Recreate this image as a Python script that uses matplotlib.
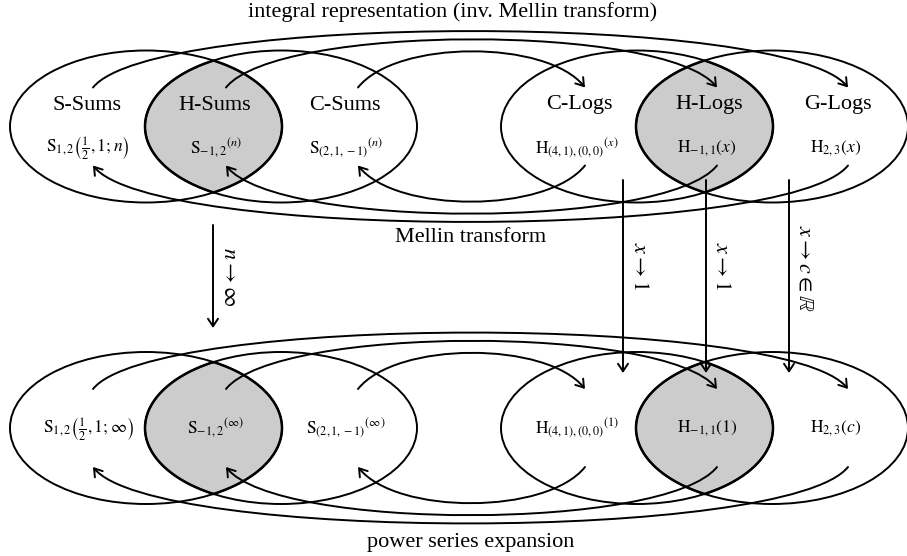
import numpy as np
import matplotlib
matplotlib.use("Agg")
import matplotlib.pyplot as plt
from matplotlib.patches import Ellipse, Polygon, FancyArrowPatch
from matplotlib.path import Path

plt.rcParams["font.family"] = ["Liberation Serif", "DejaVu Serif"]
plt.rcParams["mathtext.fontset"] = "stix"

# ---- diagram content ----
sum_names = ["S-Sums", "H-Sums", "C-Sums"]
log_names = ["C-Logs", "H-Logs", "G-Logs"]

sum_forms_n = [r"$\mathrm{S}_{1,2}\left(\frac{1}{2},1;n\right)$",
               r"$\mathrm{S}_{-1,2}{}^{(n)}$",
               r"$\mathrm{S}_{(2,1,-1)}{}^{(n)}$"]
sum_forms_inf = [r"$\mathrm{S}_{1,2}\left(\frac{1}{2},1;\infty\right)$",
                 r"$\mathrm{S}_{-1,2}{}^{(\infty)}$",
                 r"$\mathrm{S}_{(2,1,-1)}{}^{(\infty)}$"]
log_forms_x = [r"$\mathrm{H}_{(4,1),(0,0)}{}^{(x)}$",
               r"$\mathrm{H}_{-1,1}(x)$",
               r"$\mathrm{H}_{2,3}(x)$"]
log_forms_val = [r"$\mathrm{H}_{(4,1),(0,0)}{}^{(1)}$",
                 r"$\mathrm{H}_{-1,1}(1)$",
                 r"$\mathrm{H}_{2,3}(c)$"]
limit_labels = [r"$x \rightarrow 1$", r"$x \rightarrow 1$",
                r"$x \rightarrow c \in \mathbb{R}$"]

# ---- layout (pixels, y down) ----
W, H = 907, 556
row_y = [126.5, 428]
sum_ell_x = [146, 281]
log_ell_x = [637, 772]
ell_w, ell_h = 272, 152
sum_lbl_x = [88, 216, 346]
log_lbl_x = [577, 707, 836]
sum_arc_x = [93, 226, 358]
log_arc_x = [585, 717, 848]
arc_h = [75, 64, 48]        # S<->G, H<->H, C<->C
arc_dy = 39
lw = 1.4

fig = plt.figure(figsize=(W / 100, H / 100), dpi=100)
ax = fig.add_axes([0, 0, 1, 1])
ax.set_xlim(0, W)
ax.set_ylim(H, 0)
ax.axis("off")


def lens(ax, c1, c2, cy):
    a, b = ell_w / 2, ell_h / 2
    mid = (c1 + c2) / 2
    t0 = np.arccos((mid - c1) / a)
    t1 = np.linspace(-t0, t0, 80)
    t2 = np.linspace(np.pi - t0, np.pi + t0, 80)
    pts = np.vstack([np.column_stack([c1 + a * np.cos(t1), cy + b * np.sin(t1)]),
                     np.column_stack([c2 + a * np.cos(t2), cy + b * np.sin(t2)])])
    ax.add_patch(Polygon(pts, closed=True, facecolor="#cccccc",
                         edgecolor="black", lw=lw + 0.4, zorder=1))


def arc(ax, x0, x1, y, h, up):
    s = -1 if up else 1
    a = 0.8 * h * (1 if x1 > x0 else -1)
    verts = [(x0, y), (x0 + a, y + s * h), (x1 - a, y + s * h), (x1, y)]
    codes = [Path.MOVETO, Path.CURVE4, Path.CURVE4, Path.CURVE4]
    ax.add_patch(FancyArrowPatch(path=Path(verts, codes),
                                 arrowstyle="->,head_length=0.45,head_width=0.3",
                                 mutation_scale=12, lw=lw, color="black", zorder=3))


for r, cy in enumerate(row_y):
    lens(ax, sum_ell_x[0], sum_ell_x[1], cy)
    lens(ax, log_ell_x[0], log_ell_x[1], cy)
    for cx in sum_ell_x + log_ell_x:
        ax.add_patch(Ellipse((cx, cy), ell_w, ell_h, fill=False,
                             edgecolor="black", lw=lw, zorder=2))
    # sums -> logs over the top, logs -> sums underneath
    for i in range(3):
        j = 2 - i
        arc(ax, sum_arc_x[i], log_arc_x[j], cy - arc_dy, arc_h[i], True)
        arc(ax, log_arc_x[j], sum_arc_x[i], cy + arc_dy, arc_h[i], False)

    sforms = sum_forms_n if r == 0 else sum_forms_inf
    lforms = log_forms_x if r == 0 else log_forms_val
    fy = 148 if r == 0 else cy
    for i in range(3):
        ax.text(sum_lbl_x[i], fy, sforms[i], ha="center", va="center",
                fontsize=12.5, zorder=4)
        ax.text(log_lbl_x[i], fy, lforms[i], ha="center", va="center",
                fontsize=12.5, zorder=4)
    if r == 0:
        for i in range(3):
            ax.text(sum_lbl_x[i] - 1, 106, sum_names[i], ha="center", va="center",
                    fontsize=16, zorder=4)
            ax.text(log_lbl_x[i] + 2, 104, log_names[i], ha="center", va="center",
                    fontsize=16, zorder=4)

# vertical limit arrows
arrow_kw = dict(arrowstyle="->,head_length=0.45,head_width=0.3", lw=lw,
                color="black", shrinkA=0, shrinkB=0, mutation_scale=12)
ax.annotate("", xy=(213, 328), xytext=(213, 225), arrowprops=arrow_kw)
ax.text(228, 277, r"$n \rightarrow \infty$", rotation=-90, ha="center",
        va="center", fontsize=16)
for x, lx, ly, lab in zip([623, 706, 789], [638, 721, 804], [266, 266, 268],
                          limit_labels):
    ax.annotate("", xy=(x, 373), xytext=(x, 180), arrowprops=arrow_kw)
    ax.text(lx, ly, lab, rotation=-90, ha="center", va="center", fontsize=16)

ax.text(453, 12, "integral representation (inv. Mellin transform)",
        ha="center", va="center", fontsize=16)
ax.text(471, 237, "Mellin transform", ha="center", va="center", fontsize=16)
ax.text(471, 543, "power series expansion", ha="center", va="center", fontsize=16)

fig.savefig("out.png", dpi=100)
